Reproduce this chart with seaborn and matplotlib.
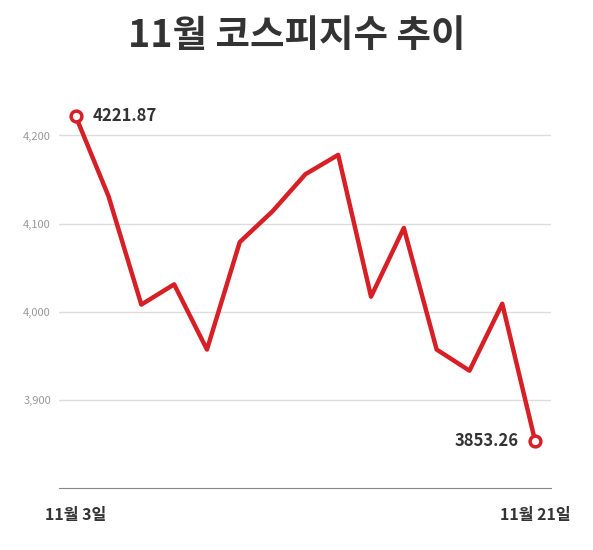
import matplotlib
matplotlib.use('Agg')
import matplotlib.pyplot as plt
import seaborn as sns
import pandas as pd

days = list(range(15))
values = [4221.87, 4131, 4008, 4031, 3957, 4079, 4114, 4156, 4178, 4017, 4095, 3957, 3933, 4009, 3853.26]
x_labels = ['11월 3일', '11월 21일']
y_ticks = [3900, 4000, 4100, 4200]

sns.set_style('white')
plt.rcParams['font.family'] = ['Noto Sans CJK KR', 'DejaVu Sans']

df = pd.DataFrame({'day': days, 'value': values})
red = '#d71f26'

fig = plt.figure(figsize=(5.93, 5.50), dpi=100)
ax = fig.add_axes([0.10, 0.113, 0.83, 0.74])
sns.lineplot(data=df, x='day', y='value', ax=ax, color=red, linewidth=3.2)
ends = df.iloc[[0, -1]]
ax.scatter(ends['day'], ends['value'], s=60, facecolor='white', edgecolor=red, linewidth=2.5, zorder=5)
ax.annotate(f'{values[0]:.2f}', (days[0], values[0]), xytext=(12, 0), textcoords='offset points',
            va='center', ha='left', fontsize=12, fontweight='bold', color='#333333')
ax.annotate(f'{values[-1]:.2f}', (days[-1], values[-1]), xytext=(-12, 0), textcoords='offset points',
            va='center', ha='right', fontsize=12, fontweight='bold', color='#333333')

ax.set_xlim(-0.5, 14.5)
ax.set_ylim(3800, 4262)
ax.set_yticks(y_ticks)
ax.set_yticklabels([f'{v:,}' for v in y_ticks], fontsize=8, color='#999999')
ax.yaxis.grid(True, color='#dddddd', linewidth=1)
ax.set_xticks([0, 14])
ax.set_xticklabels(x_labels, fontsize=11.5, fontweight='bold', color='#333333')
ax.tick_params(axis='x', length=0, pad=14)
ax.tick_params(axis='y', length=0, pad=6)
for s in ['top', 'right', 'left']:
    ax.spines[s].set_visible(False)
ax.spines['bottom'].set_color('#888888')
ax.set_xlabel('')
ax.set_ylabel('')
fig.suptitle('11월 코스피지수 추이', fontsize=27, fontweight='bold', color='#333333', y=0.97)
fig.savefig('out.png', dpi=100)
